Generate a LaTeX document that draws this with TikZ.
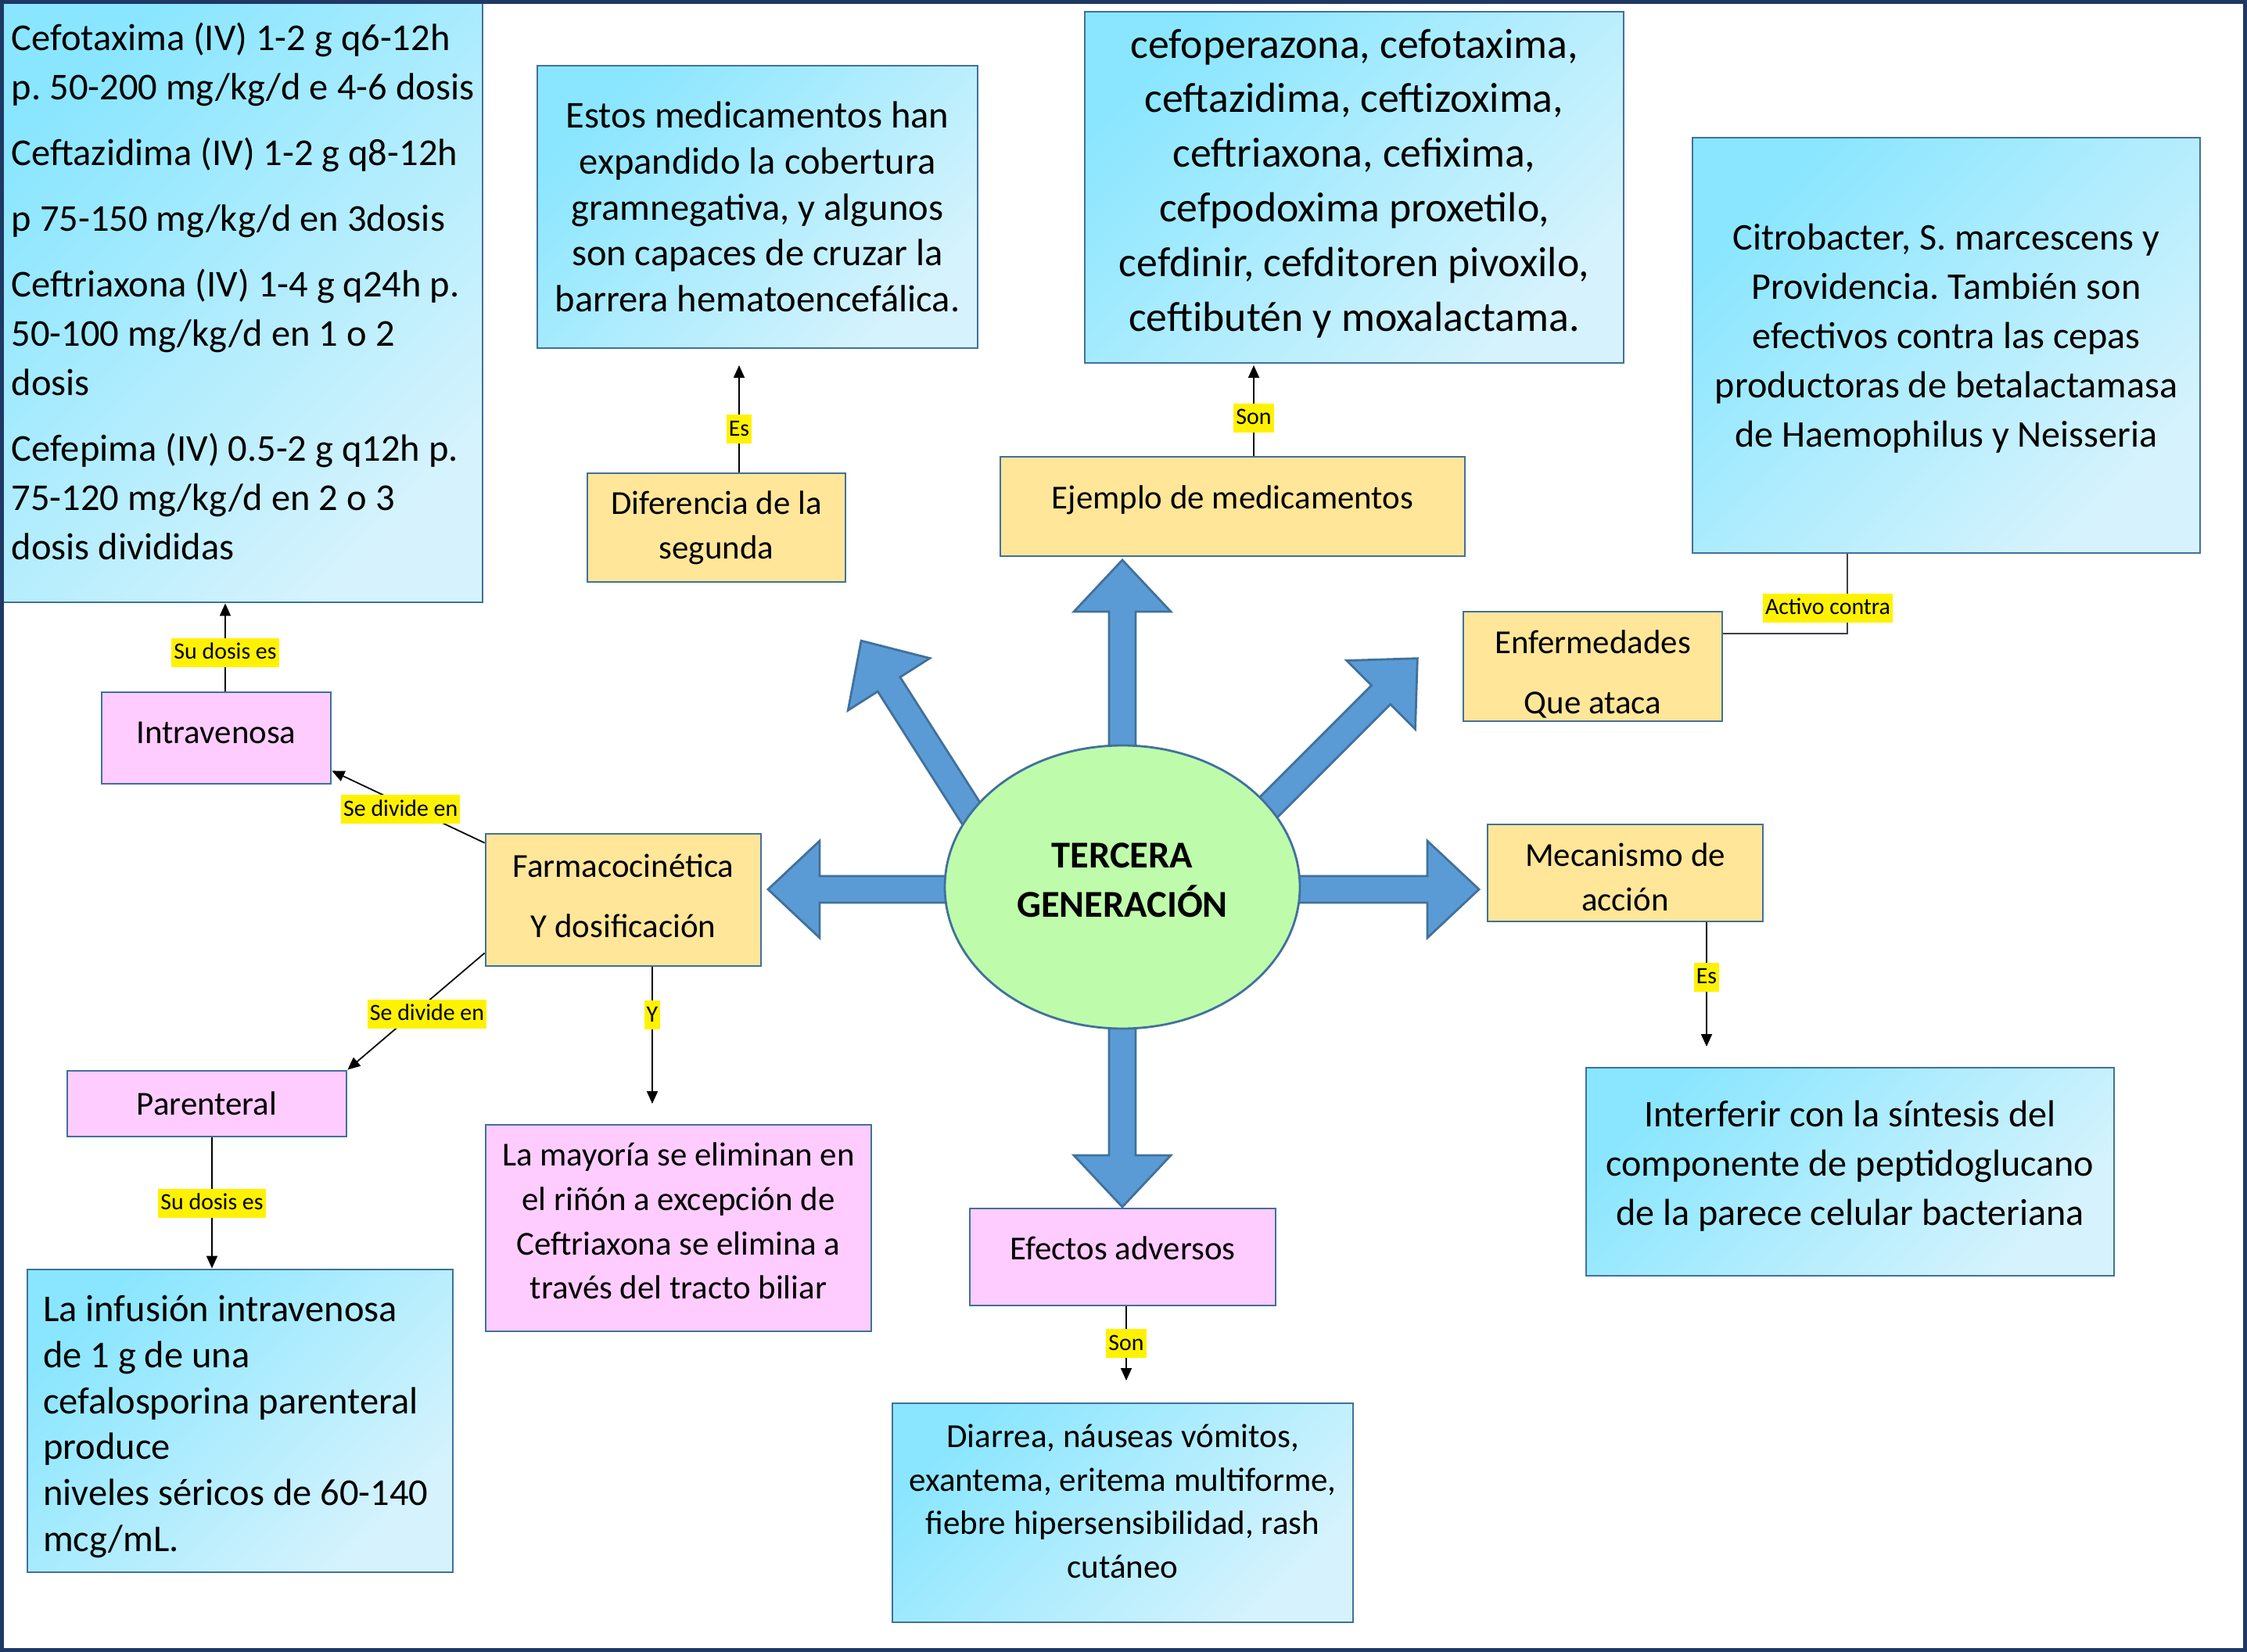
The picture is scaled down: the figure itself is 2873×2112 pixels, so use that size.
\documentclass[tikz,border=0pt]{standalone}
\usepackage{fontspec}
\setmainfont{Carlito}
\usetikzlibrary{shapes.geometric,arrows.meta}
\frenchspacing

\definecolor{borde}{RGB}{65,113,156}
\definecolor{amarillo}{RGB}{255,230,153}
\definecolor{rosa}{RGB}{255,204,255}
\definecolor{verde}{RGB}{190,252,172}
\definecolor{azul}{RGB}{91,155,213}
\definecolor{cianA}{RGB}{138,230,254}
\definecolor{cianB}{RGB}{214,243,253}
\definecolor{marco}{RGB}{31,56,100}
\definecolor{gris}{RGB}{64,64,64}

\tikzstyle{caja} = [rectangle, draw=borde, line width=0.8pt, inner sep=0pt, align=center]
\tikzstyle{cajaAm} = [caja, fill=amarillo, font=\fontsize{12.2}{16.2}\selectfont]
\tikzstyle{cajaRosa} = [caja, fill=rosa, font=\fontsize{12.2}{16.2}\selectfont]
\tikzstyle{cajaCian} = [caja, top color=cianA, bottom color=cianB, shading angle=45]
\tikzstyle{etiqueta} = [fill=yellow, inner xsep=0.3mm, inner ysep=0.2mm, text height=2.5mm, text depth=0.8mm, font=\fontsize{8.5}{10}\selectfont]
\tikzstyle{flecha} = [-{Triangle[length=1.6mm,width=1.4mm]}, line width=0.5pt]
\tikzstyle{bloque} = [fill=azul, draw=borde, line width=0.8pt, line join=miter]

% flecha gruesa: origen, angulo, largo
\newcommand{\flechaBloque}[3]{\draw[bloque, shift={#1}, rotate=#2] (0,-17) -- (#3-66,-17) -- (#3-66,-62) -- (#3,0) -- (#3-66,62) -- (#3-66,17) -- (0,17) -- cycle;}
% puntales para subir o bajar el texto en su caja
\newcommand{\subir}[1]{\rule[-#1]{0pt}{#1}}
\newcommand{\bajar}[1]{\rule{0pt}{#1}}
\newcommand{\espacios}{\spaceskip=0pt\xspaceskip=0pt\relax}

\begin{document}
\begin{tikzpicture}[x=0.1mm, y=-0.1mm]
\useasboundingbox (0,0) rectangle (2873,2112);

% flechas del centro
\flechaBloque{(1435,1134)}{90}{418}
\flechaBloque{(1435,1134)}{270}{409}
\flechaBloque{(1435,1137)}{0}{456}
\flechaBloque{(1435,1137)}{180}{453}
\flechaBloque{(1562,1092)}{45}{354}
\flechaBloque{(1280,1100)}{122.5}{333}

\node[shape=ellipse, draw=borde, fill=verde, line width=0.8pt, minimum width=45.4mm, minimum height=36.2mm, inner sep=0pt, align=center, font=\bfseries\fontsize{13.8}{17.9}\selectfont] (centro) at (1435,1134) {TERCERA\\GENERACIÓN\subir{5.2pt}};

\node[cajaCian, align=left, minimum width=61.3mm, minimum height=76.6mm, font=\fontsize{13.8}{17.9}\selectfont] (dosis) at (310.5,387) {\espacios Cefotaxima (IV) 1-2 g q6-12h\\p. 50-200 mg/kg/d e 4-6 dosis\\[6pt]Ceftazidima (IV) 1-2 g q8-12h\\[6pt]p 75-150 mg/kg/d en 3dosis\\[6pt]Ceftriaxona (IV) 1-4 g q24h p.\\50-100 mg/kg/d en 1 o 2\\dosis\\[6pt]Cefepima (IV) 0.5-2 g q12h p.\\75-120 mg/kg/d en 2 o 3\\dosis divididas\subir{8.5pt}};

\node[cajaCian, font=\fontsize{13.8}{16.7}\selectfont, minimum width=56.3mm, minimum height=36.1mm] (estos) at (968.5,264.5) {Estos medicamentos han\\expandido la cobertura\\gramnegativa, y algunos\\son capaces de cruzar la\\barrera hematoencefálica.};

\node[cajaCian, font=\fontsize{15.3}{19.9}\selectfont, minimum width=68.9mm, minimum height=44.9mm] (ejemplos) at (1731.5,239.5) {cefoperazona, cefotaxima,\\ceftazidima, ceftizoxima,\\ceftriaxona, cefixima,\\cefpodoxima proxetilo,\\cefdinir, cefditoren pivoxilo,\\ceftibutén y moxalactama.\subir{5.2pt}};

\node[cajaCian, font=\fontsize{13.7}{17.9}\selectfont, minimum width=64.9mm, minimum height=53.1mm] (activo) at (2488.5,441.5) {Citrobacter, S. marcescens y\\Providencia. También son\\efectivos contra las cepas\\productoras de betalactamasa\\de Haemophilus y Neisseria\subir{7.3pt}};

\node[cajaAm, minimum width=33mm, minimum height=13.9mm] (diferencia) at (916,674.5) {Diferencia de la\\segunda};
\node[cajaAm, minimum width=59.4mm, minimum height=12.7mm] (ejemplo) at (1576,647.5) {Ejemplo de medicamentos\subir{6.5pt}};
\node[cajaAm, font=\fontsize{12.2}{21.8}\selectfont, minimum width=33.1mm, minimum height=14mm] (enfermedades) at (2036.5,852) {\bajar{14.3pt}Enfermedades\\Que ataca};
\node[cajaRosa, minimum width=29.3mm, minimum height=11.7mm] (intravenosa) at (276.5,943.5) {Intravenosa\subir{4pt}};
\node[cajaAm, font=\fontsize{12.2}{21.8}\selectfont, minimum width=35.2mm, minimum height=16.9mm] (farmaco) at (797,1150.5) {Farmacocinética\\Y dosificación\subir{3.1pt}};
\node[cajaAm, minimum width=35.2mm, minimum height=12.4mm] (mecanismo) at (2078,1116) {\bajar{11.6pt}Mecanismo de\\acción};
\node[cajaRosa, minimum width=35.7mm, minimum height=8.4mm] (parenteral) at (264.5,1411) {Parenteral};

\node[cajaCian, align=left, text width=50.4mm, minimum width=54.4mm, minimum height=38.7mm, font=\fontsize{13.8}{16.7}\selectfont] (infusion) at (307,1816.5) {\espacios\bajar{13.7pt}La infusión intravenosa\\de 1 g de una\\cefalosporina parenteral\\produce\\niveles séricos de 60-140\\mcg/mL.};
\node[cajaRosa, font=\fontsize{12.2}{16.1}\selectfont, minimum width=49.3mm, minimum height=26.4mm] (mayoria) at (867.5,1570) {La mayoría se eliminan en\\el riñón a excepción de\\Ceftriaxona se elimina a\\través del tracto biliar\subir{5.2pt}};
\node[cajaRosa, minimum width=39.1mm, minimum height=12.4mm] (efectos) at (1435.5,1607) {Efectos adversos\subir{6.3pt}};
\node[cajaCian, font=\fontsize{12.25}{15.8}\selectfont, minimum width=58.9mm, minimum height=28mm] (diarrea) at (1435.5,1934) {Diarrea, náuseas vómitos,\\exantema, eritema multiforme,\\fiebre hipersensibilidad, rash\\cutáneo\subir{8.4pt}};
\node[cajaCian, font=\fontsize{13.7}{17.9}\selectfont, minimum width=67.5mm, minimum height=26.6mm] (interferir) at (2365.5,1498) {Interferir con la síntesis del\\componente de peptidoglucano\\de la parece celular bacteriana\subir{6.5pt}};

\coordinate (finEs) at (945,467);
\coordinate (finSon) at (1603,467);
\coordinate (finY) at (834,1411);
\coordinate (finEs2) at (2182,1338);
\coordinate (finSon2) at (1440,1765);

\draw[flecha] (diferencia.north -| finEs) -- (finEs) node[etiqueta, pos=0.4] {Es};
\draw[flecha] (ejemplo.north -| finSon) -- (finSon) node[etiqueta, pos=0.42] {Son};
\draw[flecha] (farmaco.south -| finY) -- (finY) node[etiqueta, pos=0.35] {Y};
\draw[flecha] (mecanismo.south -| finEs2) -- (finEs2) node[etiqueta, pos=0.44] {Es};
\draw[flecha] (efectos.south -| finSon2) -- (finSon2) node[etiqueta, pos=0.5] {Son};
\draw[flecha] ([xshift=1.15mm]intravenosa.north) -- ([xshift=1.15mm]intravenosa.north |- dosis.south)
  node[etiqueta, pos=0.44] {Su dosis es};
\draw[flecha] ([yshift=-1.3mm]farmaco.north west) -- ([yshift=1.8mm]intravenosa.south east)
  node[etiqueta, pos=0.55, yshift=-0.8mm] {Se divide en};
\draw[flecha] ([yshift=1.8mm]farmaco.south west) -- (parenteral.north east)
  node[etiqueta, pos=0.42, yshift=-1.5mm] {Se divide en};
\draw[flecha] ([xshift=0.65mm]parenteral.south) -- ([xshift=0.65mm]parenteral.south |- infusion.north)
  node[etiqueta, pos=0.5] {Su dosis es};
\draw[line width=0.5pt, draw=gris] ([yshift=4.2mm]enfermedades.east) -| ([xshift=-12.65mm]activo.south)
  node[etiqueta, pos=0.66, xshift=-2.5mm] {Activo contra};

\draw[draw=marco, line width=0.5mm] (2.5,2.5) rectangle (2870.5,2109.5);
\end{tikzpicture}
\end{document}
